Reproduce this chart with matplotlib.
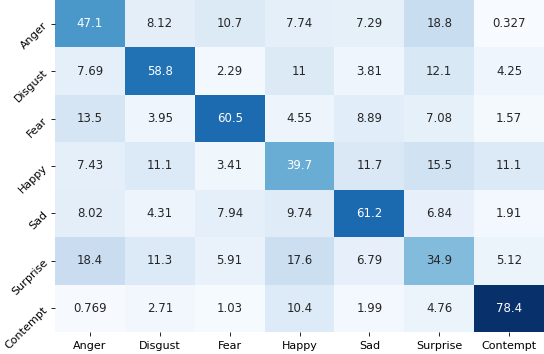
import numpy as np
import matplotlib
matplotlib.use("Agg")
import matplotlib.pyplot as plt
import seaborn as sns

# ── Data ─────────────────────────────────────
labels = ["Anger", "Disgust", "Fear", "Happy", "Sad", "Surprise", "Contempt"]

row_anger = [47.1, 8.12, 10.7, 7.74, 7.29, 18.8, 0.327]
row_disgust = [7.69, 58.8, 2.29, 11, 3.81, 12.1, 4.25]
row_fear = [13.5, 3.95, 60.5, 4.55, 8.89, 7.08, 1.57]
row_happy = [7.43, 11.1, 3.41, 39.7, 11.7, 15.5, 11.1]
row_sad = [8.02, 4.31, 7.94, 9.74, 61.2, 6.84, 1.91]
row_surprise = [18.4, 11.3, 5.91, 17.6, 6.79, 34.9, 5.12]
row_contempt = [0.769, 2.71, 1.03, 10.4, 1.99, 4.76, 78.4]

cm = np.array([row_anger, row_disgust, row_fear, row_happy,
               row_sad, row_surprise, row_contempt])

# ── Plot ─────────────────────────────────────
fig = plt.figure(figsize=(5.44, 3.54), dpi=100)
ax = fig.add_axes([55 / 544, 22 / 354, 489 / 544, 332 / 354])

sns.heatmap(cm, annot=True, fmt=".3g", cmap="Blues", cbar=False,
            xticklabels=labels, yticklabels=labels, ax=ax,
            annot_kws={"fontsize": 8.5})

ax.tick_params(axis="both", length=3, width=0.6, labelsize=8, pad=3.5)
plt.setp(ax.get_yticklabels(), rotation=45, ha="right", va="center",
         rotation_mode="anchor")
plt.setp(ax.get_xticklabels(), rotation=0)

fig.savefig("out.png", dpi=100)
